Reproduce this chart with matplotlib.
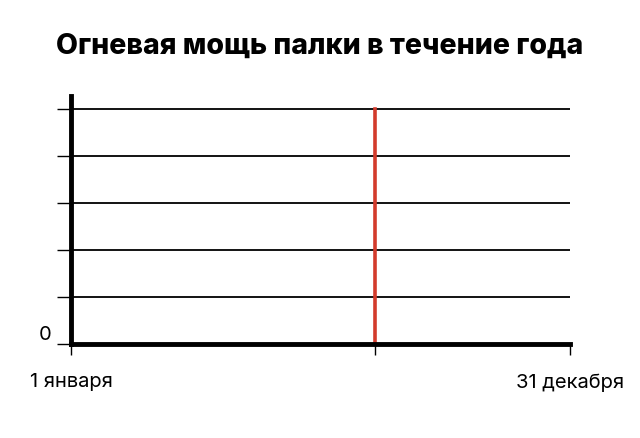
import matplotlib
matplotlib.use('Agg')
import matplotlib.pyplot as plt

# data
days_in_year = 365
today = 222  # red marker, ~ mid August
y_levels = [0, 1, 2, 3, 4, 5]
x_tick_labels = ['1 января', '', '31 декабря']
title = 'Огневая мощь палки в течение года'

plt.rcParams['font.family'] = ['Inter', 'DejaVu Sans']

fig = plt.figure(figsize=(6.4, 4.38), dpi=100)
ax = fig.add_axes([71 / 640, 1 - 344 / 438, 499 / 640, 248 / 438])

for y in y_levels[1:]:
    ax.axhline(y, color='black', linewidth=1.3, zorder=1)
ax.plot([today, today], [0, y_levels[-1]], color='#d33b2c', linewidth=2.6, zorder=2)

ax.set_xlim(0, days_in_year)
ax.set_ylim(0, 5.28)

for side in ['top', 'right']:
    ax.spines[side].set_visible(False)
for side in ['left', 'bottom']:
    ax.spines[side].set_linewidth(3.5)
    ax.spines[side].set_zorder(3)

ax.set_xticks([0, today, days_in_year])
ax.set_xticklabels(x_tick_labels, fontsize=14.5)
ax.set_yticks(y_levels)
ax.set_yticklabels(['0'] + [''] * 5, fontsize=14.5)
ax.tick_params(axis='x', length=8, width=1, pad=13)
ax.tick_params(axis='y', length=10, width=1, pad=4)
for lbl in ax.get_yticklabels():
    lbl.set_verticalalignment('bottom')

fig.suptitle(title, x=0.5, y=0.925, fontsize=20.5, fontweight='heavy')

fig.savefig('out.png', dpi=100)
